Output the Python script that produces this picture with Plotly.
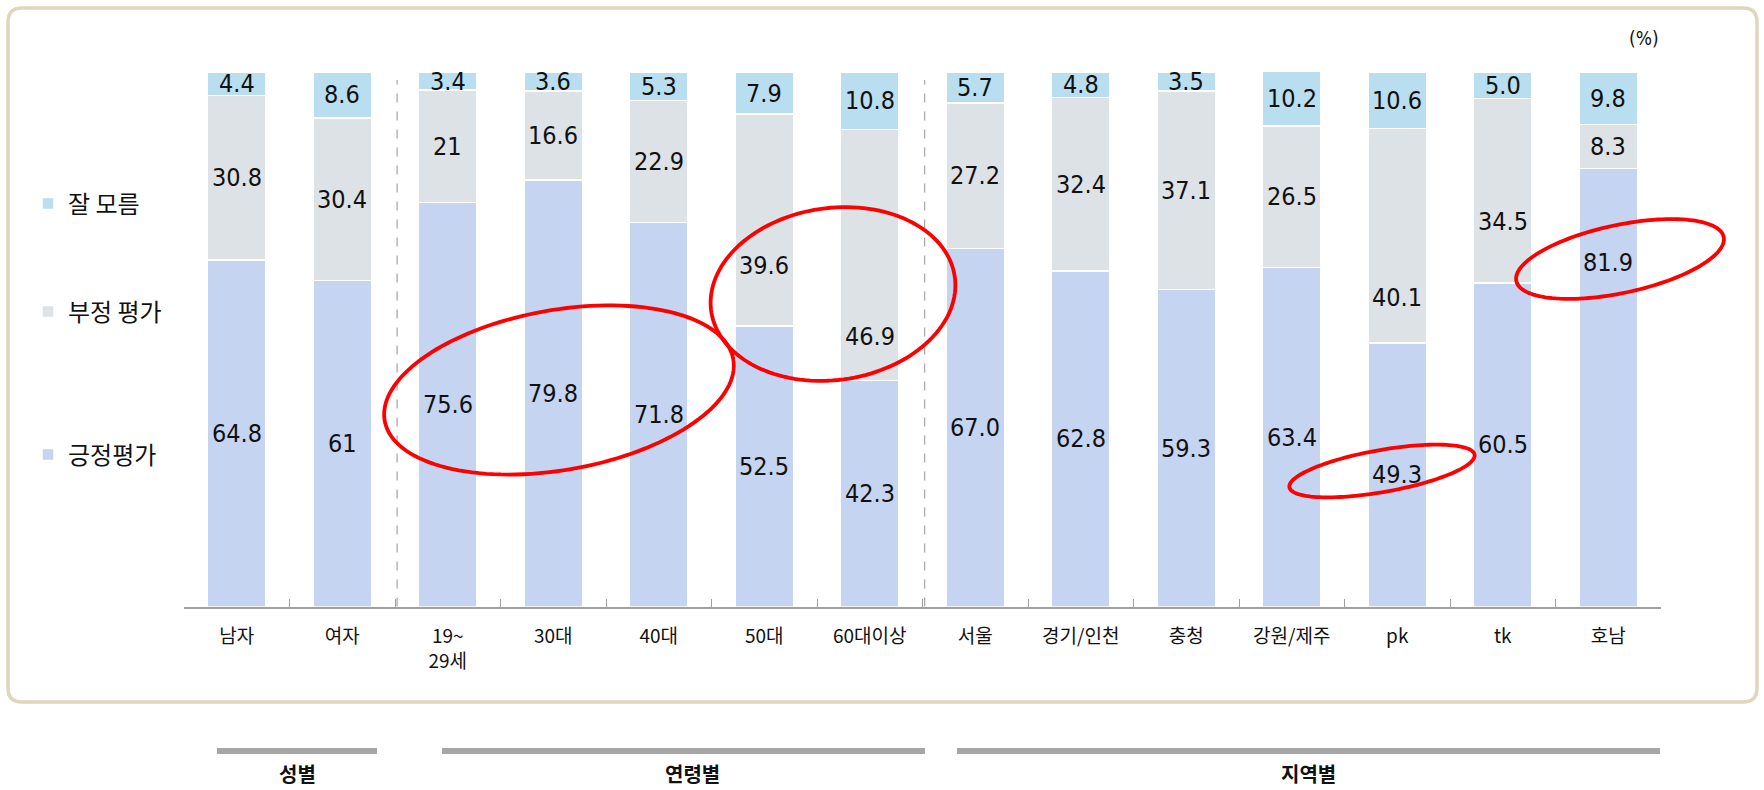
import numpy as np
import plotly.graph_objects as go

# ---------------- data ----------------
categories = ["남자", "여자", "19~<br>29세", "30대", "40대", "50대", "60대이상",
              "서울", "경기/인천", "충청", "강원/제주", "pk", "tk", "호남"]
positive = [64.8, 61, 75.6, 79.8, 71.8, 52.5, 42.3, 67.0, 62.8, 59.3, 63.4, 49.3, 60.5, 81.9]
negative = [30.8, 30.4, 21, 16.6, 22.9, 39.6, 46.9, 27.2, 32.4, 37.1, 26.5, 40.1, 34.5, 8.3]
unknown = [4.4, 8.6, 3.4, 3.6, 5.3, 7.9, 10.8, 5.7, 4.8, 3.5, 10.2, 10.6, 5.0, 9.8]
positive_labels = ["64.8", "61", "75.6", "79.8", "71.8", "52.5", "42.3", "67.0", "62.8",
                   "59.3", "63.4", "49.3", "60.5", "81.9"]
negative_labels = ["30.8", "30.4", "21", "16.6", "22.9", "39.6", "46.9", "27.2", "32.4",
                   "37.1", "26.5", "40.1", "34.5", "8.3"]
unknown_labels = ["4.4", "8.6", "3.4", "3.6", "5.3", "7.9", "10.8", "5.7", "4.8", "3.5",
                  "10.2", "10.6", "5.0", "9.8"]
series_names = ["긍정평가", "부정 평가", "잘 모름"]
group_names = ["성별", "연령별", "지역별"]
unit_label = "(%)"

# ---------------- style ----------------
W, H = 1764, 790
KR = "Noto Sans CJK KR"
NUM = "DejaVu Sans Condensed, DejaVu Sans, Noto Sans CJK KR"
colors = ["#c5d4f1", "#dde2e7", "#b8def0"]
LABEL_SIZE = 25

# labels moved by hand in the original (value-unit nudges from segment centre)
nudges = {(1, 5): -8.5, (1, 6): -15.2, (1, 11): -11.6, (1, 12): -5.7, (0, 13): 23.5}


def px(x):
    return x / W


def py(y):
    return 1 - y / H


fig = go.Figure()
series = [positive, negative, unknown]
labels = [positive_labels, negative_labels, unknown_labels]
legends = ["legend", "legend2", "legend3"]
for s, vals in enumerate(series):
    fig.add_trace(go.Bar(
        x=categories, y=vals, name=series_names[s], legend=legends[s],
        marker=dict(color=colors[s], line=dict(color="white", width=1.5)),
        width=0.55, hoverinfo="skip",
    ))

annotations = []
base = np.zeros(len(categories))
for s, vals in enumerate(series):
    v = np.array(vals, dtype=float)
    for i in range(len(categories)):
        yv = base[i] + v[i] / 2 + nudges.get((s, i), 0.0)
        annotations.append(dict(x=categories[i], y=yv, xref="x", yref="y",
                                text=labels[s][i], showarrow=False,
                                xanchor="center", yanchor="middle",
                                font=dict(family=NUM, size=LABEL_SIZE, color="#111111")))
    base = base + v

# unit label
annotations.append(dict(x=px(1644), y=py(38), xref="paper", yref="paper", text=unit_label,
                        showarrow=False, xanchor="center", yanchor="middle",
                        font=dict(family=NUM, size=19, color="#111111")))

# group labels under the frame
group_centers = [297, 692, 1308]
for name, cx in zip(group_names, group_centers):
    annotations.append(dict(x=px(cx), y=py(773), xref="paper", yref="paper",
                            text="<b>" + name + "</b>", showarrow=False,
                            xanchor="center", yanchor="middle", borderpad=0,
                            font=dict(family=KR, size=20, color="#111111")))

shapes = []
# rounded outer frame
L, R, T, B, r = 8, 1757, 8, 702, 14
frame = (f"M {px(L + r)},{py(T)} L {px(R - r)},{py(T)} Q {px(R)},{py(T)} {px(R)},{py(T + r)} "
         f"L {px(R)},{py(B - r)} Q {px(R)},{py(B)} {px(R - r)},{py(B)} "
         f"L {px(L + r)},{py(B)} Q {px(L)},{py(B)} {px(L)},{py(B - r)} "
         f"L {px(L)},{py(T + r)} Q {px(L)},{py(T)} {px(L + r)},{py(T)} Z")
shapes.append(dict(type="path", path=frame, xref="paper", yref="paper",
                   line=dict(color="#ddd8bc", width=3.5), layer="below"))

# dashed separators between groups
for xs in [1.52, 6.52]:
    shapes.append(dict(type="line", xref="x", yref="y", x0=xs, x1=xs, y0=0, y1=98.5,
                       line=dict(color="#aaaaaa", width=1.3, dash="dash")))

# grey group bars
for x0, x1 in [(217, 377), (442, 925), (957, 1660)]:
    shapes.append(dict(type="line", xref="paper", yref="paper", x0=px(x0), x1=px(x1),
                       y0=py(751), y1=py(751), line=dict(color="#a6a6a6", width=6)))


# red highlight ellipses
def ellipse_path(cx, cy, a, b, deg, n=140):
    t = np.linspace(0, 2 * np.pi, n)
    th = np.deg2rad(deg)
    xs = cx + a * np.cos(t) * np.cos(th) - b * np.sin(t) * np.sin(th)
    ys = cy - (a * np.cos(t) * np.sin(th) + b * np.sin(t) * np.cos(th))
    pts = [f"{px(x):.5f},{py(y):.5f}" for x, y in zip(xs, ys)]
    return "M " + " L ".join(pts) + " Z"


for cx, cy, a, b, deg in [(559, 390, 177, 80, 10), (833, 294, 123, 86, 8),
                          (1620, 259, 106, 34, 12), (1382, 471, 94, 21, 10)]:
    shapes.append(dict(type="path", path=ellipse_path(cx, cy, a, b, deg), xref="paper",
                       yref="paper", line=dict(color="#ff0000", width=3.8)))

legend_font = dict(family=KR, size=24, color="#111111")
leg_common = dict(xanchor="left", yanchor="middle", bgcolor="rgba(0,0,0,0)", font=legend_font)

fig.update_layout(
    width=W, height=H, margin=dict(l=0, r=0, t=0, b=0),
    paper_bgcolor="white", plot_bgcolor="white",
    barmode="stack", bargap=0.45,
    xaxis=dict(domain=[px(184), px(1661)], type="category", range=[-0.5, 13.5],
               showline=True, linecolor="#a0a0a0", linewidth=2, ticks="inside",
               tickson="boundaries", ticklen=8, tickcolor="#a0a0a0", tickwidth=1.3,
               tickfont=dict(family=KR, size=19, color="#111111"), ticklabelstandoff=12,
               showgrid=False, zeroline=False, fixedrange=True),
    yaxis=dict(domain=[1 - 606.5 / H, 1 - 72 / H], range=[0, 100], visible=False,
               showgrid=False, fixedrange=True),
    legend=dict(x=px(28), y=py(455), **leg_common),
    legend2=dict(x=px(28), y=py(312), **leg_common),
    legend3=dict(x=px(28), y=py(204), **leg_common),
    annotations=annotations, shapes=shapes, showlegend=True,
)

fig.write_html("out.html", config={"displayModeBar": False},
               post_script="document.body.style.margin='0';document.body.style.overflow='hidden';")
